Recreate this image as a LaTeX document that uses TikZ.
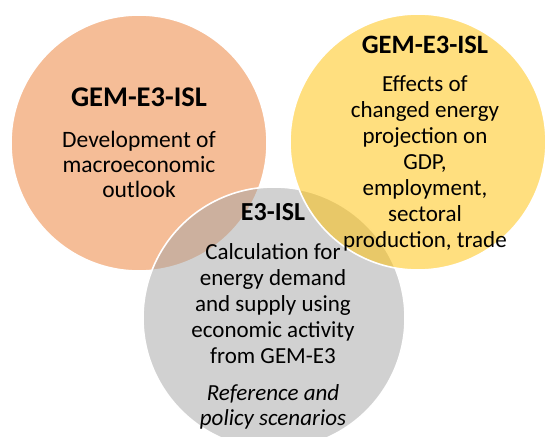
\documentclass[tikz,border=0pt]{standalone}
\usepackage{fontspec}
\setmainfont{Carlito}
\begin{document}
\begin{tikzpicture}[x=1pt,y=-1pt,
  venn/.style={draw=white,line width=1.6pt,fill opacity=0.5,draw opacity=1},
  title/.style={font=\fontsize{28.5}{32}\selectfont\bfseries,inner sep=0pt,anchor=base},
  body/.style={inner sep=0pt,anchor=base}]
\definecolor{accorange}{HTML}{ED7D31}
\definecolor{accyellow}{HTML}{FFC000}
\definecolor{accgray}{HTML}{A5A5A5}
\useasboundingbox (0,0) rectangle (547,437);
% the three sets, drawn back to front
\fill[white] (0,0) rectangle (547,437);
\draw[venn,fill=accorange] (139,143) circle[radius=128];
\draw[venn,fill=accgray] (274,318) circle[radius=131];
\draw[venn,fill=accyellow] (418,142) circle[radius=128];
% left set
\node[title] (ltitle) at (139,106) {GEM-E3-ISL};
\node[body] (ltext) at (139,147) {\fontsize{23.5}{25}\selectfont
  \begin{tabular}[t]{@{}c@{}}Development of\\macroeconomic\\outlook\end{tabular}};
% right set
\node[title,font=\fontsize{26.5}{30}\selectfont\bfseries] (rtitle) at (425,53) {GEM-E3-ISL};
\node[body] (rtext) at (425,91) {\fontsize{23}{26}\selectfont
  \begin{tabular}[t]{@{}c@{}}Effects of\\changed energy\\projection on\\GDP,\\employment,\\sectoral\\production, trade\end{tabular}};
% lower set
\node[title,font=\fontsize{26}{30}\selectfont\bfseries] (gtitle) at (273,220) {E3-ISL};
\node[body] (gtext) at (273,259) {\fontsize{23}{26}\selectfont
  \begin{tabular}[t]{@{}c@{}}Calculation for\\energy demand\\and supply using\\economic activity\\from GEM-E3\end{tabular}};
\node[body] (gnote) at (273,400) {\fontsize{23}{25}\selectfont\itshape
  \begin{tabular}[t]{@{}c@{}}Reference and\\policy scenarios\end{tabular}};
\end{tikzpicture}
\end{document}
